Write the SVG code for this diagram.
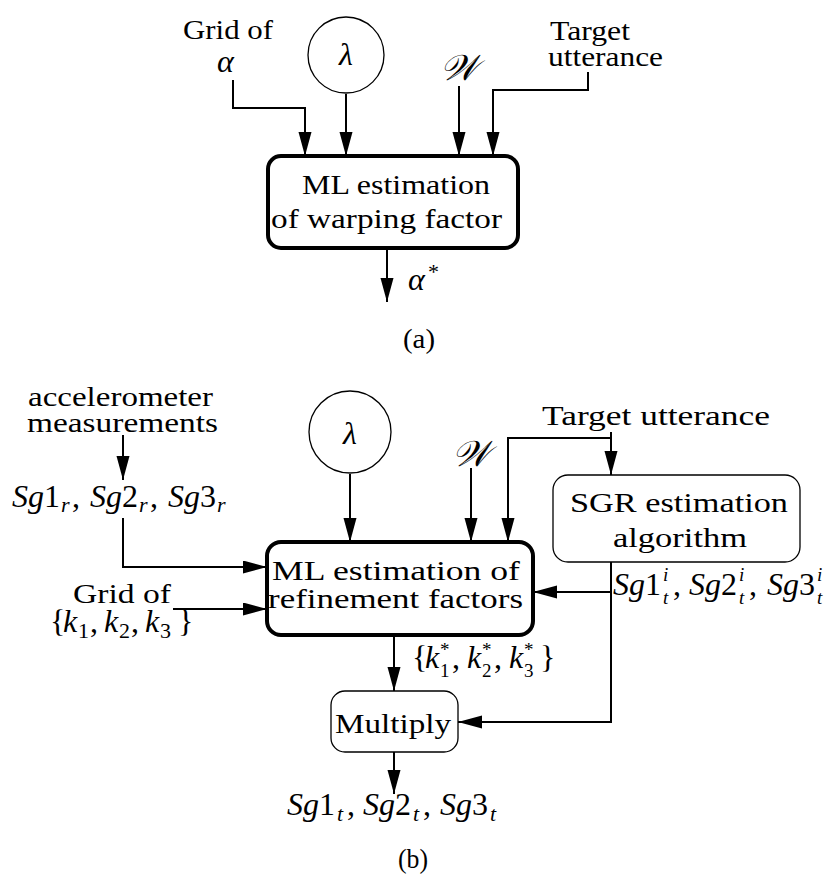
<svg xmlns="http://www.w3.org/2000/svg" width="828" height="879" viewBox="0 0 828 879">
<style>
.t{font-family:"Liberation Serif","Times New Roman",serif;font-size:27px;fill:#000}
.m{font-family:"Liberation Serif","Times New Roman",serif;font-size:32px;fill:#000}
.i{font-style:italic}
.s{font-size:22px}
.ss{font-size:19px}
.w{font-size:36px}
.thick{fill:#fff;stroke:#000;stroke-width:4}
.thin{fill:#fff;stroke:#000;stroke-width:1.3}
.c{fill:none;stroke:#000;stroke-width:2}
</style>
<defs>
<marker id="ar" markerUnits="userSpaceOnUse" markerWidth="26" markerHeight="14" refX="24" refY="6.5" orient="auto">
<path d="M0,0 L24,6.5 L0,13 z" fill="#000"/>
</marker>
</defs>
<rect width="828" height="879" fill="#fff"/>
<g id="connectors">
<path class="c" d="M233,80 V108 H305 V156" marker-end="url(#ar)"/>
<path class="c" d="M346,94 V156" marker-end="url(#ar)"/>
<path class="c" d="M459,86 V156" marker-end="url(#ar)"/>
<path class="c" d="M588,72 V90 H493 V156" marker-end="url(#ar)"/>
<path class="c" d="M387,250 V302" marker-end="url(#ar)"/>
<path class="c" d="M123,435 V480" marker-end="url(#ar)"/>
<path class="c" d="M123,518 V567 H267" marker-end="url(#ar)"/>
<path class="c" d="M173,609 H267" marker-end="url(#ar)"/>
<path class="c" d="M350,474 V542" marker-end="url(#ar)"/>
<path class="c" d="M471,468 V542" marker-end="url(#ar)"/>
<path class="c" d="M611,432 V475" marker-end="url(#ar)"/>
<path class="c" d="M611,438 H508 V542" marker-end="url(#ar)"/>
<path class="c" d="M611,562 V722 H458" marker-end="url(#ar)"/>
<path class="c" d="M611,592 H533" marker-end="url(#ar)"/>
<path class="c" d="M394,636 V691" marker-end="url(#ar)"/>
<path class="c" d="M394,752 V794" marker-end="url(#ar)"/>
</g>
<g id="a-grid">
<text class="t" x="183" y="39" textLength="90" lengthAdjust="spacingAndGlyphs">Grid of</text>
<text class="m i" x="217" y="72">α</text>
</g>
<g id="a-lambda">
<circle class="thin" cx="346" cy="55" r="38"/>
<text class="m i" x="346" y="65" text-anchor="middle">λ</text>
</g>
<g id="a-W">
<text class="m i w" x="459" y="80" text-anchor="middle">𝒲</text>
</g>
<g id="a-target">
<text class="t" x="550" y="40" textLength="80" lengthAdjust="spacingAndGlyphs">Target</text>
<text class="t" x="548" y="66" textLength="115" lengthAdjust="spacingAndGlyphs">utterance</text>
</g>
<g id="a-ml">
<rect class="thick" x="268" y="156" width="250" height="92" rx="13"/>
<text class="t" x="302" y="194" textLength="188" lengthAdjust="spacingAndGlyphs">ML estimation</text>
<text class="t" x="271" y="228" textLength="231" lengthAdjust="spacingAndGlyphs">of warping factor</text>
</g>
<g id="a-out">
<text class="m"><tspan class="i" x="408" y="290">α</tspan><tspan class="s" x="428" y="279">*</tspan></text>
</g>
<text class="t" x="403" y="348" textLength="32" lengthAdjust="spacingAndGlyphs">(a)</text>
<g id="b-accel">
<text class="t" x="28" y="406" textLength="185" lengthAdjust="spacingAndGlyphs">accelerometer</text>
<text class="t" x="27" y="432" textLength="191" lengthAdjust="spacingAndGlyphs">measurements</text>
</g>
<g id="b-sgr">
<text class="m"><tspan class="i" x="12" y="507">Sg</tspan><tspan x="44">1</tspan><tspan class="i s" x="61" y="512">r</tspan><tspan x="72" y="507">,</tspan><tspan class="i" x="90">Sg</tspan><tspan x="122">2</tspan><tspan class="i s" x="139" y="512">r</tspan><tspan x="150" y="507">,</tspan><tspan class="i" x="168">Sg</tspan><tspan x="200">3</tspan><tspan class="i s" x="217" y="512">r</tspan></text>
</g>
<g id="b-gridk">
<text class="t" x="73" y="603" textLength="98" lengthAdjust="spacingAndGlyphs">Grid of</text>
<text class="m"><tspan x="50" y="632">{</tspan><tspan class="i" x="63">k</tspan><tspan class="s" x="78" y="638">1</tspan><tspan x="90" y="632">,</tspan><tspan class="i" x="104">k</tspan><tspan class="s" x="119" y="638">2</tspan><tspan x="131" y="632">,</tspan><tspan class="i" x="145">k</tspan><tspan class="s" x="160" y="638">3</tspan><tspan x="178" y="632">}</tspan></text>
</g>
<g id="b-lambda">
<circle class="thin" cx="350" cy="432" r="41"/>
<text class="m i" x="350" y="444" text-anchor="middle">λ</text>
</g>
<g id="b-W">
<text class="m i w" x="471" y="466" text-anchor="middle">𝒲</text>
</g>
<g id="b-target">
<text class="t" x="542" y="425" textLength="228" lengthAdjust="spacingAndGlyphs">Target utterance</text>
</g>
<g id="b-sgr-est">
<rect class="thin" x="553" y="475" width="247" height="87" rx="15"/>
<text class="t" x="570" y="512" textLength="218" lengthAdjust="spacingAndGlyphs">SGR estimation</text>
<text class="t" x="613" y="547" textLength="134" lengthAdjust="spacingAndGlyphs">algorithm</text>
</g>
<g id="b-sgti">
<text class="m"><tspan class="i" x="613" y="595">Sg</tspan><tspan x="645">1</tspan><tspan class="i ss" x="663" y="581">i</tspan><tspan class="i ss" x="663" y="604">t</tspan><tspan x="673" y="595">,</tspan><tspan class="i" x="689">Sg</tspan><tspan x="721">2</tspan><tspan class="i ss" x="739" y="581">i</tspan><tspan class="i ss" x="739" y="604">t</tspan><tspan x="749" y="595">,</tspan><tspan class="i" x="767">Sg</tspan><tspan x="799">3</tspan><tspan class="i ss" x="817" y="581">i</tspan><tspan class="i ss" x="817" y="604">t</tspan></text>
</g>
<g id="b-ml">
<rect class="thick" x="267" y="542" width="266" height="93" rx="14"/>
<text class="t" x="272" y="580" textLength="248" lengthAdjust="spacingAndGlyphs">ML estimation of</text>
<text class="t" x="268" y="608" textLength="255" lengthAdjust="spacingAndGlyphs">refinement factors</text>
</g>
<g id="b-kstar">
<text class="m"><tspan x="412" y="668">{</tspan><tspan class="i" x="425">k</tspan><tspan class="ss" x="440" y="656">*</tspan><tspan class="ss" x="440" y="677">1</tspan><tspan x="452" y="668">,</tspan><tspan class="i" x="467">k</tspan><tspan class="ss" x="482" y="656">*</tspan><tspan class="ss" x="482" y="677">2</tspan><tspan x="494" y="668">,</tspan><tspan class="i" x="509">k</tspan><tspan class="ss" x="524" y="656">*</tspan><tspan class="ss" x="524" y="677">3</tspan><tspan x="540" y="668">}</tspan></text>
</g>
<g id="b-multiply">
<rect class="thin" x="331" y="691" width="127" height="61" rx="14"/>
<text class="t" x="335" y="733" textLength="116" lengthAdjust="spacingAndGlyphs">Multiply</text>
</g>
<g id="b-sgt">
<text class="m"><tspan class="i" x="287" y="815">Sg</tspan><tspan x="319">1</tspan><tspan class="i s" x="337" y="821">t</tspan><tspan x="347" y="815">,</tspan><tspan class="i" x="363">Sg</tspan><tspan x="395">2</tspan><tspan class="i s" x="413" y="821">t</tspan><tspan x="423" y="815">,</tspan><tspan class="i" x="440">Sg</tspan><tspan x="472">3</tspan><tspan class="i s" x="490" y="821">t</tspan></text>
</g>
<text class="t" x="398" y="868" textLength="30" lengthAdjust="spacingAndGlyphs">(b)</text>
</svg>
